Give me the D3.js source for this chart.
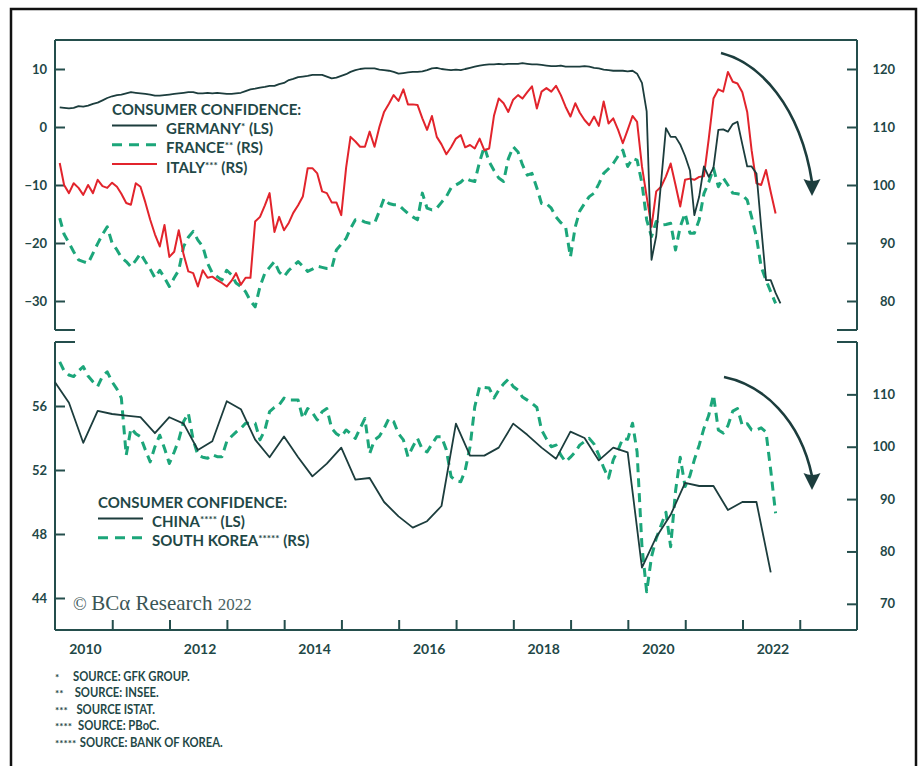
<!DOCTYPE html>
<html>
<head>
<meta charset="utf-8">
<script src="https://cdn.jsdelivr.net/npm/d3@7"></script>
<style>
  body { margin: 0; background: #fff; }
  svg text { font-family: Lato, "Open Sans", "DejaVu Sans", sans-serif; }
</style>
</head>
<body>
<svg id="chart" width="922" height="766"></svg>
<script>
// Consumer confidence, monthly from Jan 2010 (China: quarterly from Q4 2009)
const germany = [
  3.4, 3.3, 3.2, 3.3, 3.6, 3.5, 3.7, 4.0, 4.2, 4.6, 5.0, 5.3,
  5.5, 5.6, 5.8, 6.0, 5.9, 5.8, 5.7, 5.6, 5.4, 5.4, 5.5, 5.6,
  5.7, 5.8, 5.9, 6.0, 6.0, 5.8, 5.8, 5.9, 5.8, 5.9, 5.8, 5.7,
  5.7, 5.8, 5.9, 6.2, 6.5, 6.6, 6.8, 6.9, 7.1, 7.1, 7.4, 7.6,
  8.1, 8.3, 8.6, 8.7, 8.8, 9.0, 9.0, 9.0, 8.7, 8.4, 8.5, 8.8,
  9.1, 9.5, 9.8, 10.0, 10.1, 10.1, 10.1, 9.9, 9.8, 9.7, 9.5, 9.2,
  9.3, 9.4, 9.5, 9.5, 9.6, 9.8, 10.1, 10.2, 10.0, 9.9, 9.8, 9.9,
  9.8, 10.0, 10.2, 10.4, 10.6, 10.7, 10.8, 10.8, 10.9, 10.8, 10.9, 10.9,
  10.9, 11.0, 10.9, 10.8, 10.8, 10.7, 10.6, 10.5, 10.5, 10.6, 10.4, 10.4,
  10.4, 10.4, 10.5, 10.4, 10.2, 10.1, 9.9, 9.8, 9.7, 9.7, 9.7, 9.6,
  9.7, 9.2, 7.6, 2.7, -22.9, -18.8, -9.5, -0.2, -1.7, -1.7, -3.0, -5.0,
  -7.5, -15.2, -12.0, -6.8, -8.6, -7.0, -0.5, -0.4, -0.8, 0.5, 0.9, -3.0,
  -6.8, -6.8, -8.0, -17.2, -26.4, -26.4, -28.6, -30.4
];
const france = [
  94.3, 91.5, 90.0, 88.5, 87.1, 86.8, 86.5, 88.2, 89.9, 91.5, 92.8, 90.0,
  88.8, 87.5, 86.8, 85.9, 87.0, 88.2, 86.8, 85.5, 84.0, 85.3, 84.0, 82.5,
  84.0, 85.3, 89.4, 91.0, 92.0, 90.5, 89.4, 86.5, 84.8, 84.2, 83.6, 85.3,
  84.5, 83.1, 82.5, 81.6, 80.0, 79.0, 82.5, 84.8, 85.8, 86.8, 85.0, 84.2,
  85.3, 86.0, 86.8, 86.0, 85.1, 85.5, 86.0, 85.8, 85.6, 85.6, 88.8, 89.8,
  90.8, 92.5, 94.0, 94.0, 93.6, 93.4, 93.4, 95.5, 97.7, 96.8, 96.6, 96.6,
  95.8, 95.1, 94.5, 94.0, 98.6, 96.0, 95.7, 96.0, 97.0, 98.0, 99.5, 100.0,
  100.5, 101.2, 100.8, 100.6, 104.0, 106.6, 104.0, 102.5, 101.2, 100.6, 104.5, 106.6,
  105.7, 103.5, 101.7, 102.0, 99.5, 96.8, 96.8, 96.0, 94.5, 93.5, 92.8, 87.6,
  92.8, 95.5, 96.8, 98.0, 98.6, 100.2, 102.0, 102.8, 103.7, 105.0, 106.0, 103.2,
  104.6, 104.3, 100.3, 94.0, 91.1, 93.7, 93.1, 93.2, 93.4, 88.8, 92.8, 95.1,
  91.7, 91.7, 94.0, 98.5, 100.5, 102.9, 99.7, 101.2, 100.0, 98.6, 98.5, 98.3,
  97.4, 94.5, 91.0, 85.9, 83.6, 81.6, 79.6
];
const italy = [
  103.8, 100.0, 98.6, 100.3, 99.5, 98.3, 100.0, 98.6, 100.9, 99.8, 99.5, 100.4,
  99.7, 98.5, 96.9, 96.6, 100.3, 99.7, 97.0, 94.0, 91.5, 89.4, 93.1, 87.6,
  88.5, 92.2, 88.0, 85.1, 84.8, 82.5, 85.3, 84.0, 84.2, 83.6, 83.1, 82.5,
  83.5, 84.8, 82.8, 84.0, 84.0, 93.7, 94.5, 96.5, 98.6, 91.9, 94.5, 92.2,
  93.5, 95.2, 96.5, 98.0, 102.9, 102.9, 102.0, 98.9, 98.6, 97.0, 97.0, 94.8,
  103.0, 108.3, 107.5, 106.6, 106.6, 109.2, 106.6, 110.0, 112.6, 114.0, 115.5, 114.5,
  116.5, 113.9, 113.9, 113.8, 111.5, 109.5, 111.9, 108.3, 107.0, 105.3, 106.5, 108.0,
  108.6, 106.5, 106.9, 106.3, 108.0, 106.0, 106.3, 112.0, 114.9, 114.1, 112.6, 114.7,
  115.5, 114.9, 116.0, 117.0, 113.2, 116.1, 116.7, 116.1, 117.1, 115.5, 113.5, 111.8,
  114.1, 112.5, 111.2, 110.3, 111.8, 110.2, 114.4, 110.6, 111.5, 109.5, 107.2, 109.5,
  111.9, 110.9, 103.2, 98.0, 92.8, 98.9, 99.7, 101.5, 103.7, 100.0, 96.3, 100.9,
  101.1, 100.9, 101.4, 101.5, 108.0, 114.9, 116.5, 116.1, 119.5, 117.8, 117.5, 116.0,
  112.6, 106.0, 100.3, 100.0, 102.6, 98.8, 95.1
];
const korea = [
  116.2, 114.5, 113.7, 113.4, 114.5, 115.3, 113.5, 112.4, 111.5, 113.5, 114.3, 112.4,
  111.0, 109.3, 98.4, 103.5, 102.5, 101.9, 99.4, 97.1, 100.0, 102.2, 99.7, 96.8,
  99.0, 101.3, 104.8, 106.4, 101.3, 98.4, 98.0, 97.8, 98.5, 98.1, 98.1, 101.0,
  102.0, 102.8, 103.5, 104.5, 104.5, 104.5, 101.3, 103.2, 106.7, 107.5, 108.0, 109.3,
  108.9, 108.9, 108.9, 105.4, 107.3, 106.5, 105.1, 106.7, 107.3, 103.5, 102.5, 101.9,
  103.2, 102.5, 101.6, 103.5, 105.4, 98.7, 101.3, 102.0, 103.5, 105.4, 104.8, 102.5,
  101.3, 98.1, 100.0, 101.6, 99.5, 99.0, 100.5, 101.9, 101.9, 99.4, 94.3, 93.5,
  93.3, 95.5, 100.0, 107.6, 111.5, 111.3, 111.2, 109.3, 110.8, 112.0, 112.9, 111.5,
  110.8, 109.5, 108.9, 108.3, 107.5, 103.2, 101.5, 100.0, 100.3, 98.4, 97.1, 98.0,
  99.0, 100.3, 101.0, 101.6, 100.5, 98.4, 96.0, 94.0, 97.5, 99.4, 101.6, 101.4,
  104.5, 99.0, 81.0, 72.3, 79.0, 82.5, 85.0, 87.5, 80.9, 91.5, 98.0, 92.4,
  94.5, 97.5, 100.3, 103.5, 106.0, 109.9, 103.2, 102.6, 104.0, 106.8, 107.3, 104.0,
  104.4, 103.2, 103.2, 103.6, 102.8, 95.5, 87.3
];
const china = [
  57.5, 56.2, 53.7, 55.7, 55.5, 55.4, 55.3, 54.3, 55.3, 54.9, 53.25, 53.8,
  56.3, 55.8, 53.9, 52.8, 54.1, 52.8, 51.6, 52.4, 53.4, 51.4, 51.5, 50.0,
  49.1, 48.4, 48.8, 49.75, 54.9, 52.9, 52.9, 53.4, 54.9, 54.2, 53.4, 52.7,
  54.4, 54.0, 52.6, 53.4, 53.1, 45.9, 47.8, 49.2, 51.2, 51.0, 51.0, 49.5,
  50.0, 50.0, 45.6
];

const topLeftTicks = [10, 0, -10, -20, -30];
const topRightTicks = [120, 110, 100, 90, 80];
const bottomLeftTicks = [56, 52, 48, 44];
const bottomRightTicks = [110, 100, 90, 80, 70];
const tickYears = d3.range(2011, 2024);
const labelYears = [2010, 2012, 2014, 2016, 2018, 2020, 2022];
const footnotes = [
  ["*", "SOURCE: GFK GROUP."],
  ["**", "SOURCE: INSEE."],
  ["***", "SOURCE ISTAT."],
  ["****", "SOURCE: PBoC."],
  ["*****", "SOURCE: BANK OF KOREA."]
];

const INK = "#1f4847";
const AXIS = "#244e4c";
const DARK = "#1c3d3d";
const GREEN = "#1ca67a";
const RED = "#e2242c";

const monthEnd = i => new Date(2010, i + 1, 0);
const quarterEnd = k => new Date(2010, 3 * k, 0);

const svg = d3.select("#chart");

// outer frame
svg.append("rect").attr("x", 11).attr("y", 9).attr("width", 905).attr("height", 800)
  .attr("fill", "none").attr("stroke", "#111").attr("stroke-width", 2.5);

const x = d3.scaleTime().domain([new Date(2010, 0, 1), new Date(2024, 0, 1)]).range([55, 857]);
const [x0, x1] = x.range();

const yTL = d3.scaleLinear().domain([-35, 15]).range([330, 40]);
const yTR = d3.scaleLinear().domain([75, 125]).range([330, 40]);
const yBL = d3.scaleLinear().domain([42, 60]).range([630, 342]);
const yBR = d3.scaleLinear().domain([65, 120]).range([630, 342]);

// panel frames
function frame(top, bottom, closedTop) {
  const g = svg.append("g").attr("fill", "none").attr("stroke", AXIS).attr("stroke-width", 2);
  const p = d3.path();
  if (closedTop) { p.moveTo(x0, top); p.lineTo(x1, top); }
  else {
    p.moveTo(x0 + 20, top); p.lineTo(x0, top);
    p.moveTo(x1 - 20, top); p.lineTo(x1, top);
  }
  p.moveTo(x0, top); p.lineTo(x0, bottom);
  p.moveTo(x1, top); p.lineTo(x1, bottom);
  g.append("path").attr("d", p.toString());
  return g;
}
const topFrame = frame(yTL.range()[1], yTL.range()[0], true);
topFrame.append("path").attr("d", `M${x0},${yTL.range()[0]}H${x0 + 20}M${x1 - 20},${yTL.range()[0]}H${x1}`);
const botFrame = frame(yBL.range()[1], yBL.range()[0], false);
botFrame.append("path").attr("d", `M${x0},${yBL.range()[0]}H${x1}`);

function styleAxis(g) {
  g.select(".domain").remove();
  g.selectAll(".tick line").attr("stroke", AXIS).attr("stroke-width", 2);
  g.selectAll(".tick text").attr("fill", INK).attr("font-size", 13).attr("font-weight", 700);
}
function leftAxis(scale, ticks) {
  svg.append("g").attr("transform", `translate(${x0},0)`)
    .call(d3.axisLeft(scale).tickValues(ticks).tickSize(-10).tickPadding(8))
    .call(styleAxis);
}
function rightAxis(scale, ticks) {
  svg.append("g").attr("transform", `translate(${x1},0)`)
    .call(d3.axisRight(scale).tickValues(ticks).tickSize(-10).tickPadding(8))
    .call(styleAxis)
    .call(g => g.selectAll(".tick text").attr("text-anchor", "end").attr("x", 38));
}
leftAxis(yTL, topLeftTicks);
rightAxis(yTR, topRightTicks);
leftAxis(yBL, bottomLeftTicks);
rightAxis(yBR, bottomRightTicks);

svg.append("g").attr("transform", `translate(0,${yBL.range()[0]})`)
  .call(d3.axisBottom(x).tickValues(tickYears.map(y => new Date(y, 0, 1))).tickSize(-10).tickFormat(""))
  .call(styleAxis);

svg.append("g").selectAll("text").data(labelYears).join("text")
  .attr("x", d => x(new Date(d, 6, 1)) + 2).attr("y", 654)
  .attr("text-anchor", "middle").attr("fill", INK)
  .attr("font-size", 14).attr("font-weight", 700).text(d => d);

// series
function drawSeries(values, dateFn, yScale, color, width, dash) {
  svg.append("path").datum(values)
    .attr("fill", "none").attr("stroke", color).attr("stroke-width", width)
    .attr("stroke-linejoin", "round")
    .attr("stroke-dasharray", dash || null)
    .attr("d", d3.line().x((d, i) => x(dateFn(i))).y(d => yScale(d)));
}
drawSeries(france, monthEnd, yTR, GREEN, 3, "9,6");
drawSeries(italy, monthEnd, yTR, RED, 2);
drawSeries(germany, monthEnd, yTL, DARK, 1.8);
drawSeries(korea, monthEnd, yBR, GREEN, 3, "9,6");
drawSeries(china, quarterEnd, yBL, DARK, 1.8);

// legends
function legend(x, y, items) {
  const g = svg.append("g").attr("fill", INK).attr("font-weight", 700).attr("font-size", 15);
  g.append("text").attr("x", x).attr("y", y).text("CONSUMER CONFIDENCE:");
  items.forEach((it, i) => {
    const ly = y + 10.5 + i * 19.3;
    g.append("line").attr("x1", x).attr("x2", x + 45).attr("y1", ly).attr("y2", ly)
      .attr("stroke", it.color).attr("stroke-width", it.dash ? 3 : 2)
      .attr("stroke-dasharray", it.dash || null);
    const t = g.append("text").attr("x", x + 54).attr("y", ly + 8.5);
    t.append("tspan").text(it.name);
    t.append("tspan").attr("font-size", 10).attr("dy", -4).text(it.stars);
    t.append("tspan").attr("dy", 4).text(" " + it.side);
  });
}
legend(112, 115, [
  { name: "GERMANY", stars: "*", side: "(LS)", color: DARK },
  { name: "FRANCE", stars: "**", side: "(RS)", color: GREEN, dash: "10,7" },
  { name: "ITALY", stars: "***", side: "(RS)", color: RED }
]);
legend(98, 508, [
  { name: "CHINA", stars: "****", side: "(LS)", color: DARK },
  { name: "SOUTH KOREA", stars: "*****", side: "(RS)", color: GREEN, dash: "10,7" }
]);

// arrows marking the recent slide
function arrow(x0a, y0a, x1a, y1a) {
  const g = svg.append("g").attr("fill", DARK).attr("stroke", DARK);
  const h = y1a - y0a;
  g.append("path").attr("fill", "none").attr("stroke-width", 2.6)
    .attr("d", `M${x0a},${y0a}C${x0a + 39},${y0a + 0.07 * h} ${x1a - 12},${y0a + 0.37 * h} ${x1a},${y1a - 14}`);
  g.append("path").attr("stroke", "none")
    .attr("d", `M${x1a - 8.5},${y1a - 17}Q${x1a},${y1a - 13} ${x1a + 8.5},${y1a - 17}L${x1a},${y1a}Z`);
}
arrow(721, 53, 812, 196);
arrow(724, 377, 812, 490);

// watermark
const wm = svg.append("text").attr("x", 73).attr("y", 610)
  .attr("fill", "#3a5555").style("font-family", "'Liberation Serif', 'DejaVu Serif', serif");
wm.append("tspan").attr("font-size", 18).text("© ");
wm.append("tspan").attr("font-size", 21).text("BCα Research ");
wm.append("tspan").attr("font-size", 17).attr("fill", "#4a6262").text("2022");

// footnotes (slightly condensed bold caps)
const fn = svg.append("g").attr("fill", INK).attr("font-weight", 700).attr("font-size", 12.5);
footnotes.forEach((f, i) => {
  const y = 680.5 + i * 16.5;
  fn.append("text").attr("x", 55).attr("y", y).attr("font-size", 10).text(f[0]);
  const t = fn.append("text").attr("x", 73 + i * 1.7).attr("y", y).text(f[1]);
  const w = t.node().getComputedTextLength();
  t.attr("textLength", w * 0.9).attr("lengthAdjust", "spacingAndGlyphs");
});
</script>
</body>
</html>
